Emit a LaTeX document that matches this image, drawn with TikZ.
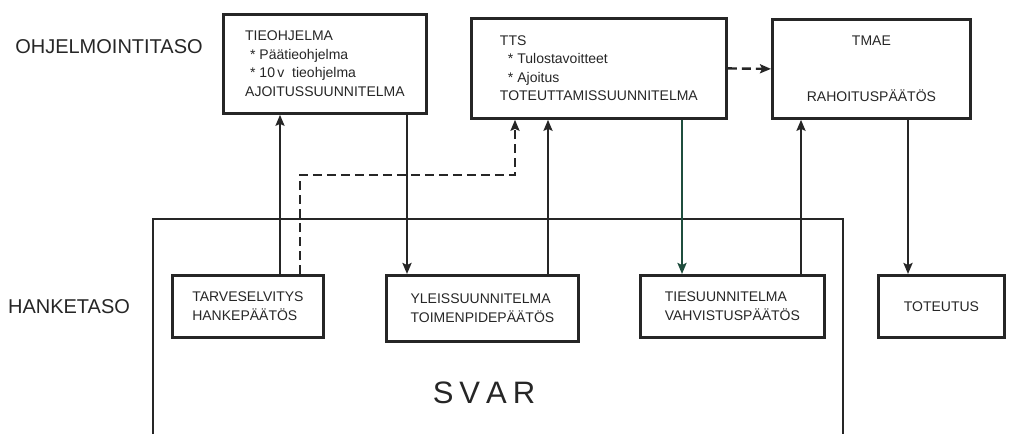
\documentclass[tikz,border=0pt]{standalone}
\usepackage{fontspec}
\setmainfont{Liberation Sans}
\definecolor{InkBlack}{HTML}{262626}
\definecolor{InkGreen}{HTML}{1F4D3D}
\usepackage{tikz}
\usetikzlibrary{
  positioning, arrows.meta, calc
}

\begin{document}
\begin{tikzpicture}[
  x=1pt, y=-1pt,
  box/.style={draw=InkBlack, line width=2.8pt, anchor=north west, inner sep=0pt,
    align=left, text=InkBlack, font=\fontsize{14}{18.5}\selectfont},
  lvl/.style={anchor=base, text=InkBlack, font=\fontsize{20}{24}\selectfont},
  flow/.style={draw=#1, line width=2.4pt, -{Stealth[length=11pt, width=9pt, inset=2pt]}},
  flow/.default={InkBlack},
  flowdash/.style={flow, dash pattern=on 9pt off 5pt},
]
\useasboundingbox (0,0) rectangle (1009,434);

% Ohjelmointitaso
\node[lvl] (ohj) at (109,53) {OHJELMOINTITASO};
\node[box, minimum width=203pt, minimum height=99pt] (tieohj) at (222,13)
  {TIEOHJELMA\\\hspace*{5pt}* Päätieohjelma\\\hspace*{5pt}* 10\,v~~tieohjelma\\AJOITUSSUUNNITELMA};
\node[box, minimum width=255pt, minimum height=100pt] (tts) at (470,17)
  {TTS\\\hspace*{8pt}* Tulostavoitteet\\\hspace*{8pt}* Ajoitus\\TOTEUTTAMISSUUNNITELMA};
\node[box, align=center, minimum width=198pt, minimum height=99pt] (tmae) at (771,18)
  {TMAE\\[37pt]RAHOITUSPÄÄTÖS};

% Hanketaso
\node[lvl] (hanke) at (69,313) {HANKETASO};
\node[box, minimum width=151pt, minimum height=62pt] (tarve) at (171,274)
  {TARVESELVITYS\\HANKEPÄÄTÖS};
\node[box, minimum width=192pt, minimum height=66pt] (yleis) at (385,274)
  {YLEISSUUNNITELMA\\TOIMENPIDEPÄÄTÖS};
\node[box, minimum width=184pt, minimum height=62pt] (ties) at (639,274)
  {TIESUUNNITELMA\\VAHVISTUSPÄÄTÖS};
\node[box, minimum width=126pt, minimum height=62pt] (toteutus) at (877,274)
  {TOTEUTUS};

% SVAR
\draw[InkBlack, line width=2.6pt] (153,434) |- (843,219) -- (843,434);
\node[lvl, font=\fontsize{31}{36}\selectfont] (svar) at (484,403)
  {S\hspace{6pt}V\hspace{6pt}A\hspace{6pt}R};

% Kulku
\draw[flow] ($(tarve.north west)+(109,0)$) -- ($(tieohj.south west)+(58,0)$);
\draw[flowdash] ($(tarve.north west)+(129,0)$) |- ($(tts.south west)+(45,55)$)
  -- ($(tts.south west)+(45,0)$);
\draw[flow] ($(tieohj.south west)+(185,0)$) -- ($(yleis.north west)+(22,0)$);
\draw[flow] ($(yleis.north west)+(163,0)$) -- ($(tts.south west)+(78,0)$);
\draw[flow=InkGreen] ($(tts.south west)+(212,0)$) -- ($(ties.north west)+(43,0)$);
\draw[flow] ($(ties.north west)+(162,0)$) -- ($(tmae.south west)+(30,0)$);
\draw[flow] ($(tmae.south west)+(137,0)$) -- ($(toteutus.north west)+(31,0)$);
\draw[flowdash] (tts.east) -- (tmae.west);

\end{tikzpicture}
\end{document}
